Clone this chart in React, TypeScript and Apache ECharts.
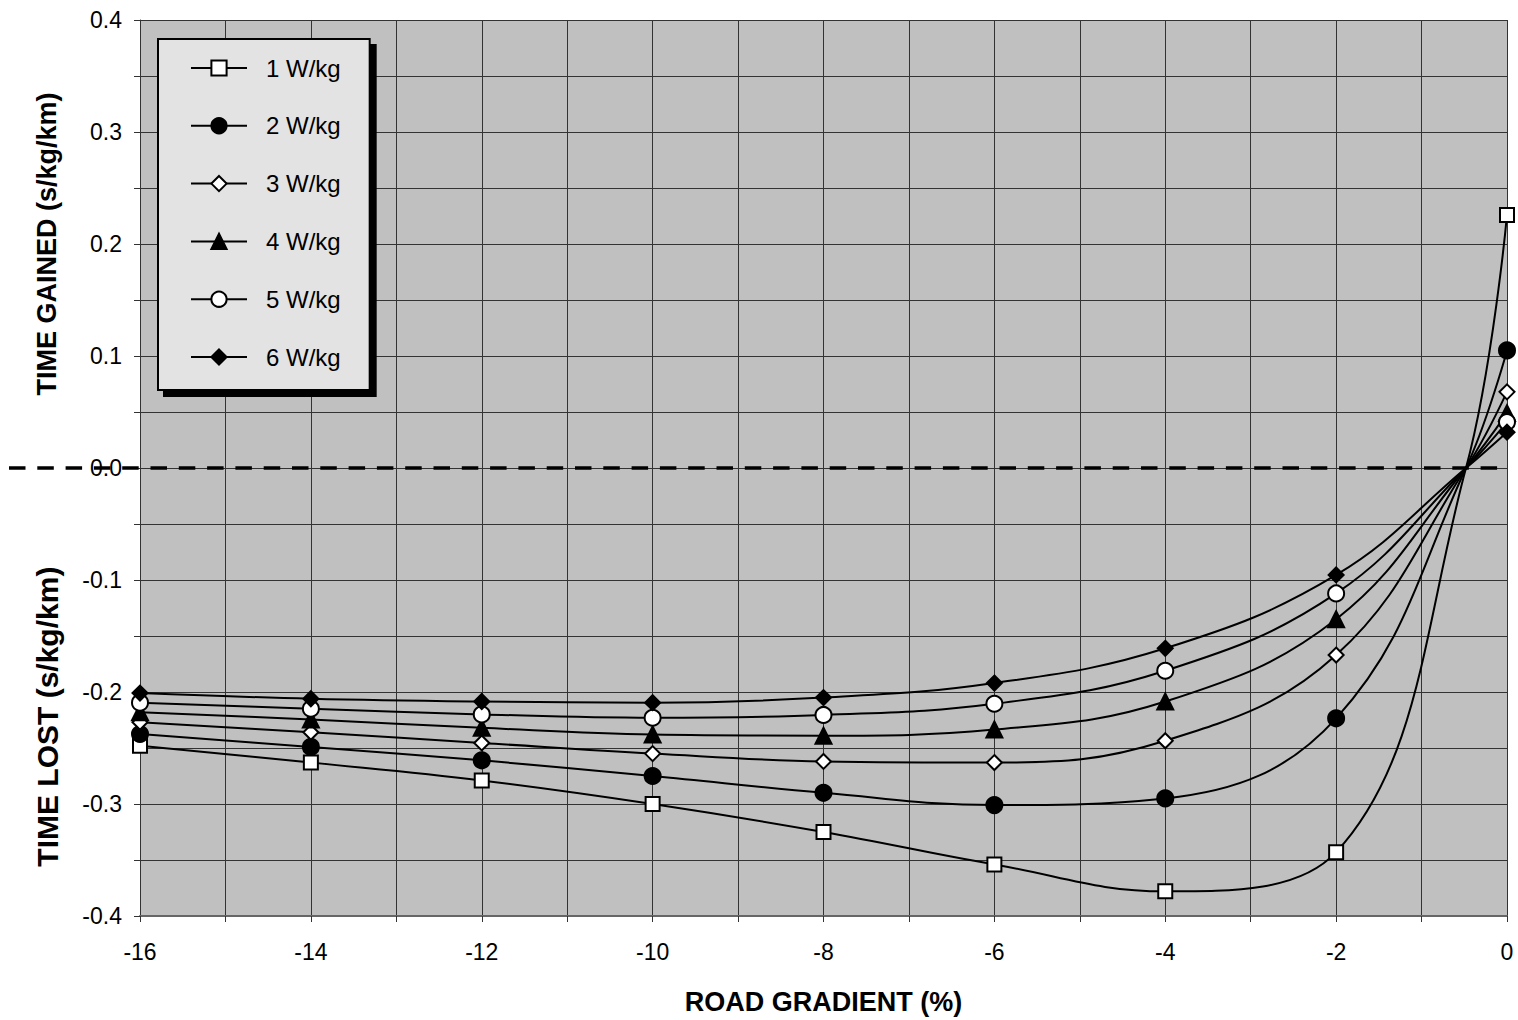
import React, { useEffect, useRef } from "react";
import * as echarts from "echarts";

// Road gradient (%) at which each value was computed
const gradients = [-16, -14, -12, -10, -8, -6, -4, -2, 0];
// Gradient where all curves cross zero (no marker there)
const crossGradient = -0.48;
const crossValue = 0;

const seriesNames = ["1 W/kg", "2 W/kg", "3 W/kg", "4 W/kg", "5 W/kg", "6 W/kg"];

// Time gained (+) / lost (-) in s/kg/km
const w1 = [-0.248, -0.263, -0.279, -0.3, -0.325, -0.354, -0.378, -0.343, 0.226];
const w2 = [-0.2375, -0.249, -0.261, -0.275, -0.29, -0.301, -0.295, -0.2235, 0.105];
const w3 = [-0.227, -0.236, -0.2455, -0.255, -0.262, -0.263, -0.2435, -0.167, 0.068];
const w4 = [-0.218, -0.2245, -0.232, -0.238, -0.239, -0.2335, -0.2085, -0.135, 0.049];
const w5 = [-0.2095, -0.215, -0.22, -0.223, -0.2205, -0.2105, -0.181, -0.112, 0.041];
const w6 = [-0.201, -0.206, -0.2085, -0.2095, -0.205, -0.192, -0.161, -0.0955, 0.032];

const allValues = [w1, w2, w3, w4, w5, w6];

const markerSymbols = ["rect", "circle", "diamond", "triangle", "circle", "diamond"];
const markerFills = ["#ffffff", "#000000", "#ffffff", "#000000", "#ffffff", "#000000"];
const markerSizes = [14, 16, 15, 16, 16, 15];

const yTitleTop = "TIME GAINED (s/kg/km)";
const yTitleBottom = "TIME LOST (s/kg/km)";
const xTitle = "ROAD GRADIENT (%)";

const FONT = "'Liberation Sans', Arial, Helvetica, sans-serif";

function buildData(vals: number[]) {
  const pts: any[] = gradients.map((g, i) => ({ value: [g, vals[i]] }));
  pts.splice(pts.length - 1, 0, {
    value: [crossGradient, crossValue],
    symbol: "none",
  });
  return pts;
}

export default function App() {
  const ref = useRef<HTMLDivElement>(null);

  useEffect(() => {
    if (!ref.current) return;
    const chart = echarts.init(ref.current, undefined, { renderer: "svg" });

    const series = allValues.map((vals, i) => ({
      name: seriesNames[i],
      type: "line",
      data: buildData(vals),
      smooth: 0.4,
      symbol: markerSymbols[i],
      symbolSize: markerSizes[i],
      showSymbol: true,
      lineStyle: { color: "#000", width: 2 },
      itemStyle: { color: markerFills[i], borderColor: "#000", borderWidth: 2 },
      emphasis: { disabled: true },
      z: 3 + i,
    }));

    const option: any = {
      animation: false,
      backgroundColor: "#ffffff",
      textStyle: { fontFamily: FONT },
      grid: {
        left: 140,
        right: 11,
        top: 20,
        bottom: 104,
        show: true,
        backgroundColor: "#c0c0c0",
        borderWidth: 0,
      },
      legend: {
        orient: "vertical",
        left: 158,
        top: 39,
        padding: [17, 29, 21, 32],
        itemWidth: 56,
        itemHeight: 19,
        itemGap: 33.8,
        backgroundColor: "#e3e3e3",
        borderColor: "#000",
        borderWidth: 2,
        shadowColor: "#000",
        shadowBlur: 0,
        shadowOffsetX: 6,
        shadowOffsetY: 6,
        selectedMode: false,
        textStyle: {
          fontFamily: FONT,
          fontSize: 24,
          lineHeight: 24,
          color: "#000",
          padding: [0, 0, 0, 14],
        },
        data: seriesNames,
      },
      xAxis: {
        type: "value",
        min: -16,
        max: 0,
        interval: 1,
        axisLine: { show: true, onZero: false, lineStyle: { color: "#666", width: 2 } },
        axisTick: { show: true, length: 6, lineStyle: { color: "#333", width: 1 } },
        axisLabel: {
          margin: 24,
          fontSize: 23,
          color: "#000",
          fontFamily: FONT,
          formatter: (v: number) => {
            const r = Math.round(v);
            return r % 2 === 0 ? String(r === 0 ? 0 : r) : "";
          },
        },
        splitLine: { show: true, lineStyle: { color: "#333", width: 1 } },
        name: xTitle,
        nameLocation: "middle",
        nameGap: 72,
        nameTextStyle: {
          fontFamily: FONT,
          fontSize: 27,
          fontWeight: "bold",
          color: "#000",
        },
      },
      yAxis: {
        type: "value",
        min: -0.4,
        max: 0.4,
        interval: 0.05,
        axisLine: { show: true, onZero: false, lineStyle: { color: "#333", width: 1 } },
        axisTick: { show: true, length: 6, lineStyle: { color: "#333", width: 1 } },
        axisLabel: {
          margin: 18,
          fontSize: 23,
          color: "#000",
          fontFamily: FONT,
          formatter: (v: number) => {
            const k = Math.round(v * 20);
            if (k % 2 !== 0) return "";
            return (k / 20).toFixed(1);
          },
        },
        splitLine: { show: true, lineStyle: { color: "#333", width: 1 } },
      },
      series,
    };

    chart.setOption(option);

    const y0 = chart.convertToPixel({ yAxisIndex: 0 } as any, 0) as number;
    const xRight = chart.convertToPixel({ xAxisIndex: 0 } as any, 0) as number;
    const yGainedMid = chart.convertToPixel({ yAxisIndex: 0 } as any, 0.2) as number;
    const yLostMid = chart.convertToPixel({ yAxisIndex: 0 } as any, -0.222) as number;

    chart.setOption({
      graphic: [
        {
          type: "line",
          z: 2,
          shape: { x1: 9, y1: y0, x2: xRight, y2: y0 },
          style: { stroke: "#000", lineWidth: 3.5, lineDash: [16.5, 11.8] },
          silent: true,
        },
        {
          type: "text",
          x: 47,
          y: yGainedMid,
          rotation: Math.PI / 2,
          style: {
            text: yTitleTop,
            fontFamily: FONT,
            fontSize: 27,
            fontWeight: "bold",
            fill: "#000",
            align: "center",
            verticalAlign: "middle",
          },
        },
        {
          type: "text",
          x: 47,
          y: yLostMid,
          rotation: Math.PI / 2,
          style: {
            text: yTitleBottom,
            fontFamily: FONT,
            fontSize: 30,
            fontWeight: "bold",
            fill: "#000",
            align: "center",
            verticalAlign: "middle",
          },
        },
      ],
    });

    return () => {
      chart.dispose();
    };
  }, []);

  return (
    <div
      ref={ref}
      style={{ position: "absolute", left: 0, top: 0, width: 1518, height: 1020 }}
    />
  );
}
